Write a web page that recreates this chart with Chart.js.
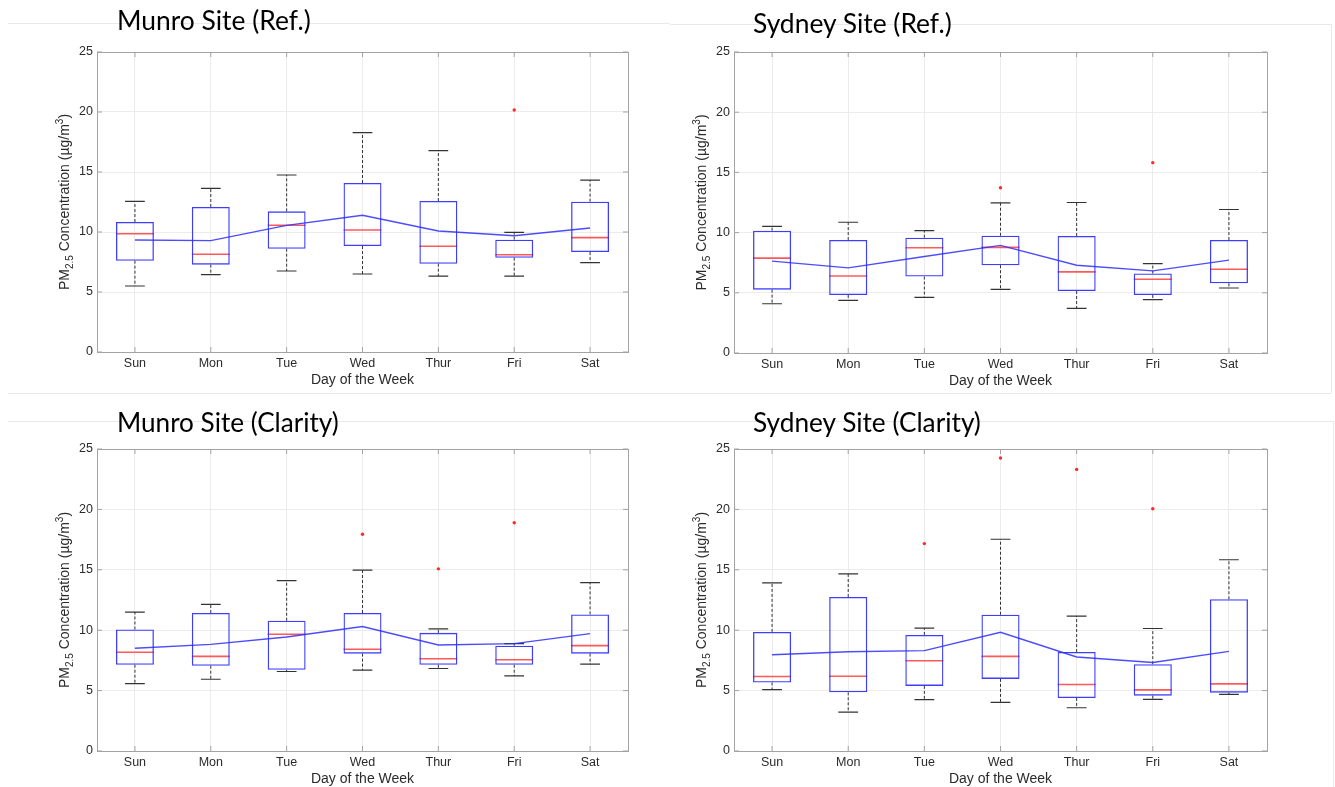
<!DOCTYPE html>
<html>
<head>
<meta charset="utf-8">
<script src="https://cdn.jsdelivr.net/npm/chart.js@4.4.0/dist/chart.umd.min.js"></script>
<style>
body { margin:0; background:#fff; width:1335px; height:787px; overflow:hidden; position:relative; }
.panel { position:absolute; }
.title { position:absolute; font-family: Lato, "Open Sans", sans-serif; font-size:26px; line-height:1; color:#000; white-space:nowrap; transform-origin:0 0; }
.rule { position:absolute; background:#e9e9e9; }
</style>
</head>
<body>

<div class="rule" style="left:8px;top:23px;width:662px;height:1px"></div>
<div class="rule" style="left:670px;top:24px;width:662px;height:1px"></div>
<div class="rule" style="left:1331px;top:24px;width:1px;height:369px"></div>
<div class="rule" style="left:8px;top:393px;width:1323px;height:1px"></div>
<div class="rule" style="left:8px;top:421px;width:1325px;height:1px"></div>
<div class="rule" style="left:1333px;top:421px;width:1px;height:366px"></div>

<canvas id="c1" class="panel" style="left:0;top:0" width="670" height="395"></canvas>
<canvas id="c2" class="panel" style="left:670px;top:0" width="665" height="395"></canvas>
<canvas id="c3" class="panel" style="left:0;top:395px" width="670" height="392"></canvas>
<canvas id="c4" class="panel" style="left:670px;top:395px" width="665" height="392"></canvas>

<div class="title" id="t1" style="left:117px;top:7px">Munro Site (Ref.)</div>
<div class="title" id="t2" style="left:753px;top:10px">Sydney Site (Ref.)</div>
<div class="title" id="t3" style="left:117px;top:409px">Munro Site (Clarity)</div>
<div class="title" id="t4" style="left:753px;top:409px">Sydney Site (Clarity)</div>

<script>
// jours de la semaine
const days = ['Sun', 'Mon', 'Tue', 'Wed', 'Thur', 'Fri', 'Sat'];
const yTicks = [0, 5, 10, 15, 20, 25];

// Munro (Ref.)
const munroRefLow  = [5.50, 6.44, 6.75, 6.50, 6.33, 6.33, 7.44];
const munroRefQ1   = [7.61, 7.28, 8.61, 8.83, 7.36, 7.86, 8.33];
const munroRefMed  = [9.86, 8.14, 10.56, 10.17, 8.81, 8.11, 9.53];
const munroRefQ3   = [10.83, 12.08, 11.72, 14.08, 12.58, 9.36, 12.53];
const munroRefHigh = [12.56, 13.64, 14.75, 18.28, 16.78, 9.97, 14.33];
const munroRefMean = [9.33, 9.28, 10.55, 11.39, 10.08, 9.69, 10.33];
const munroRefOut  = [null, null, null, null, null, 20.17, null];

// Sydney (Ref.)
const sydneyRefLow  = [4.09, 4.37, 4.62, 5.29, 3.70, 4.43, 5.40];
const sydneyRefQ1   = [5.26, 4.82, 6.35, 7.29, 5.15, 4.82, 5.79];
const sydneyRefMed  = [7.88, 6.40, 8.74, 8.77, 6.74, 6.12, 6.96];
const sydneyRefQ3   = [10.16, 9.38, 9.58, 9.74, 9.72, 6.60, 9.38];
const sydneyRefHigh = [10.52, 10.86, 10.16, 12.47, 12.50, 7.43, 11.92];
const sydneyRefMean = [7.63, 7.07, 8.02, 8.94, 7.29, 6.82, 7.71];
const sydneyRefOut  = [null, null, null, 13.72, null, 15.81, null];

// Munro (Clarity)
const munroClaLow  = [5.58, 5.94, 6.58, 6.69, 6.83, 6.22, 7.19];
const munroClaQ1   = [7.14, 7.06, 6.72, 8.06, 7.14, 7.14, 8.06];
const munroClaMed  = [8.17, 7.83, 9.67, 8.42, 7.64, 7.56, 8.72];
const munroClaQ3   = [10.06, 11.42, 10.78, 11.42, 9.78, 8.72, 11.31];
const munroClaHigh = [11.50, 12.14, 14.11, 14.97, 10.11, 8.89, 13.94];
const munroClaMean = [8.50, 8.83, 9.44, 10.31, 8.78, 8.89, 9.72];
const munroClaOut  = [null, null, null, 17.94, 15.08, 18.89, null];

// Sydney (Clarity)
const sydneyClaLow  = [5.08, 3.22, 4.25, 4.03, 3.58, 4.28, 4.69];
const sydneyClaQ1   = [5.67, 4.86, 5.39, 5.97, 4.39, 4.58, 4.83];
const sydneyClaMed  = [6.17, 6.19, 7.47, 7.83, 5.50, 5.06, 5.56];
const sydneyClaQ3   = [9.86, 12.75, 9.61, 11.28, 8.19, 7.19, 12.56];
const sydneyClaHigh = [13.92, 14.67, 10.17, 17.53, 11.17, 10.14, 15.83];
const sydneyClaMean = [7.97, 8.22, 8.31, 9.83, 7.78, 7.33, 8.25];
const sydneyClaOut  = [null, null, 17.17, 24.25, 23.31, 20.06, null];

const axisFont = '"Liberation Sans", Arial, sans-serif';
const textColor = '#2b2b2b';

// moustaches, medianes, cadre et titres des axes
function boxParts(st) {
    return {
        id: 'boxParts',
        beforeDatasetsDraw(chart) {
            let ctx = chart.ctx;
            let x = chart.scales.x, y = chart.scales.y;
            let half = (x.getPixelForValue(1) - x.getPixelForValue(0)) / 2;
            let boxHalf = half * 0.5, capHalf = half * 0.26;
            ctx.save();
            for (let i = 0; i < days.length; i++) {
                let cx = x.getPixelForValue(i);
                // pointillés
                ctx.strokeStyle = '#333';
                ctx.lineWidth = 1;
                ctx.setLineDash([3, 2]);
                ctx.beginPath();
                ctx.moveTo(cx, y.getPixelForValue(st.q3[i]));
                ctx.lineTo(cx, y.getPixelForValue(st.high[i]));
                ctx.moveTo(cx, y.getPixelForValue(st.q1[i]));
                ctx.lineTo(cx, y.getPixelForValue(st.low[i]));
                ctx.stroke();
                // extrémités
                ctx.setLineDash([]);
                ctx.lineWidth = 1.2;
                ctx.beginPath();
                ctx.moveTo(cx - capHalf, y.getPixelForValue(st.high[i]));
                ctx.lineTo(cx + capHalf, y.getPixelForValue(st.high[i]));
                ctx.moveTo(cx - capHalf, y.getPixelForValue(st.low[i]));
                ctx.lineTo(cx + capHalf, y.getPixelForValue(st.low[i]));
                ctx.stroke();
                // mediane
                ctx.strokeStyle = 'rgba(255,60,60,0.85)';
                ctx.lineWidth = 1.6;
                ctx.beginPath();
                ctx.moveTo(cx - boxHalf, y.getPixelForValue(st.med[i]));
                ctx.lineTo(cx + boxHalf, y.getPixelForValue(st.med[i]));
                ctx.stroke();
            }
            ctx.restore();
        },
        afterDraw(chart) {
            let ctx = chart.ctx;
            let a = chart.chartArea;
            let x = chart.scales.x, y = chart.scales.y;
            ctx.save();
            // cadre
            ctx.strokeStyle = '#a3a3a3';
            ctx.lineWidth = 1;
            ctx.strokeRect(Math.round(a.left) + 0.5, Math.round(a.top) + 0.5, Math.round(a.right - a.left), Math.round(a.bottom - a.top));
            // petites graduations internes
            ctx.beginPath();
            yTicks.forEach(v => {
                let py = y.getPixelForValue(v);
                ctx.moveTo(a.left, py); ctx.lineTo(a.left + 5, py);
                ctx.moveTo(a.right, py); ctx.lineTo(a.right - 5, py);
            });
            for (let i = 0; i < days.length; i++) {
                let px = x.getPixelForValue(i);
                ctx.moveTo(px, a.bottom); ctx.lineTo(px, a.bottom - 5);
                ctx.moveTo(px, a.top); ctx.lineTo(px, a.top + 5);
            }
            ctx.stroke();

            // titre axe x
            ctx.fillStyle = textColor;
            ctx.font = '14px ' + axisFont;
            ctx.textAlign = 'center';
            ctx.textBaseline = 'middle';
            ctx.fillText('Day of the Week', (a.left + a.right) / 2, a.bottom + 28);

            // titre axe y avec indice et exposant
            let big = '14px ' + axisFont, small = '10px ' + axisFont;
            let parts = [['PM', big, 0], ['2.5', small, 4], [' Concentration (\u00b5g/m', big, 0], ['3', small, -6], [')', big, 0]];
            let total = 0;
            parts.forEach(p => { ctx.font = p[1]; total += ctx.measureText(p[0]).width; });
            ctx.translate(a.left - st.yTitleGap, (a.top + a.bottom) / 2);
            ctx.rotate(-Math.PI / 2);
            ctx.textAlign = 'left';
            ctx.textBaseline = 'alphabetic';
            let pos = -total / 2;
            parts.forEach(p => {
                ctx.font = p[1];
                ctx.fillText(p[0], pos, 5 + p[2]);
                pos += ctx.measureText(p[0]).width;
            });
            ctx.restore();
        }
    };
}

function makeChart(id, st, plot) {
    let canvas = document.getElementById(id);
    let W = canvas.width, H = canvas.height;
    return new Chart(canvas.getContext('2d'), {
        data: {
            labels: days,
            datasets: [{
                type: 'line',
                data: st.mean,
                borderColor: 'rgba(45,45,255,0.85)',
                borderWidth: 1.4,
                pointRadius: 0,
                tension: 0
            }, {
                type: 'line',
                data: st.out,
                showLine: false,
                pointRadius: 1.7,
                pointBorderWidth: 0,
                pointBackgroundColor: 'rgb(255,40,40)'
            }, {
                type: 'bar',
                data: st.q1.map((v, i) => [v, st.q3[i]]),
                backgroundColor: 'rgba(0,0,0,0)',
                borderColor: 'rgba(40,40,255,0.9)',
                borderWidth: 1.3,
                borderSkipped: false,
                barPercentage: 0.5,
                categoryPercentage: 1
            }]
        },
        options: {
            responsive: false,
            animation: false,
            devicePixelRatio: 1,
            layout: { padding: { top: plot.top, right: W - plot.right, left: 0, bottom: 0 } },
            plugins: { legend: { display: false }, tooltip: { enabled: false } },
            scales: {
                x: {
                    type: 'category',
                    offset: true,
                    grid: { offset: false, color: '#ececec', drawTicks: false },
                    border: { display: false },
                    ticks: { padding: 4, color: textColor, font: { size: 12.5, family: axisFont }, maxRotation: 0, autoSkip: false },
                    afterFit: s => { s.height = H - plot.bottom; }
                },
                y: {
                    min: 0,
                    max: 25,
                    grid: { color: '#ececec', drawTicks: false },
                    border: { display: false },
                    ticks: { stepSize: 5, padding: 4, color: textColor, font: { size: 12.5, family: axisFont } },
                    afterFit: s => { s.width = plot.left; }
                }
            }
        },
        plugins: [boxParts(st)]
    });
}

makeChart('c1', { low: munroRefLow, q1: munroRefQ1, med: munroRefMed, q3: munroRefQ3, high: munroRefHigh, mean: munroRefMean, out: munroRefOut, yTitleGap: 33 },
    { left: 97, right: 628, top: 52, bottom: 352 });
makeChart('c2', { low: sydneyRefLow, q1: sydneyRefQ1, med: sydneyRefMed, q3: sydneyRefQ3, high: sydneyRefHigh, mean: sydneyRefMean, out: sydneyRefOut, yTitleGap: 33 },
    { left: 64, right: 597, top: 52, bottom: 353 });
makeChart('c3', { low: munroClaLow, q1: munroClaQ1, med: munroClaMed, q3: munroClaQ3, high: munroClaHigh, mean: munroClaMean, out: munroClaOut, yTitleGap: 33 },
    { left: 97, right: 628, top: 54, bottom: 356 });
makeChart('c4', { low: sydneyClaLow, q1: sydneyClaQ1, med: sydneyClaMed, q3: sydneyClaQ3, high: sydneyClaHigh, mean: sydneyClaMean, out: sydneyClaOut, yTitleGap: 33 },
    { left: 64, right: 597, top: 54, bottom: 356 });

// largeur des titres
let titleWidths = { t1: 194, t2: 199, t3: 222, t4: 228 };
Object.keys(titleWidths).forEach(id => {
    let el = document.getElementById(id);
    el.style.transform = 'scaleX(' + (titleWidths[id] / el.offsetWidth) + ')';
});
</script>
</body>
</html>
